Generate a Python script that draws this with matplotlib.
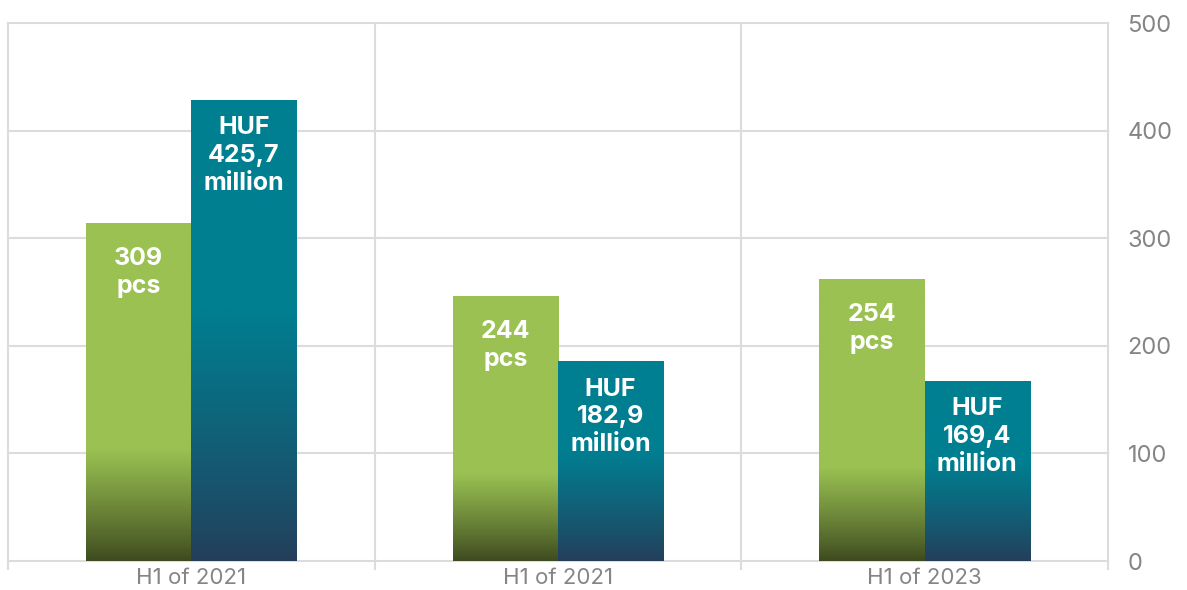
import numpy as np
import matplotlib
matplotlib.use("Agg")
import matplotlib.pyplot as plt
from matplotlib.colors import to_rgb

categories = ["H1 of 2021", "H1 of 2021", "H1 of 2023"]
pcs_values = [314, 246, 262]
huf_values = [428, 185, 167]
pcs_labels = ["309\npcs", "244\npcs", "254\npcs"]
huf_labels = ["HUF\n425,7\nmillion", "HUF\n182,9\nmillion", "HUF\n169,4\nmillion"]
y_ticks = [0, 100, 200, 300, 400, 500]

GREEN_TOP, GREEN_BOT = "#9AC152", "#3D4A1F"
TEAL_TOP, TEAL_BOT = "#007F91", "#243E5B"
GRID = "#DCDCDC"
FONT = ["Inter", "DejaVu Sans"]

W, H, DPI = 1187, 590, 100
fig = plt.figure(figsize=(W / DPI, H / DPI), dpi=DPI)
ax = fig.add_axes([8 / W, 29 / H, 1100 / W, 538 / H])

n = len(categories)
x = np.arange(n)
bw = 0.287

def gradient_img(top, bot, frac):
    t = np.linspace(0, 1, 256)  # 0 bottom -> 1 top
    s = np.clip(t / frac, 0, 1)
    s = s ** 0.9
    c0, c1 = np.array(to_rgb(bot)), np.array(to_rgb(top))
    cols = c0[None, :] * (1 - s[:, None]) + c1[None, :] * s[:, None]
    return cols[::-1][:, None, :]

bars_p = ax.bar(x - bw / 2, pcs_values, bw, color=GREEN_TOP, zorder=2)
bars_h = ax.bar(x + bw / 2, huf_values, bw, color=TEAL_TOP, zorder=2)

for bars, top, bot, frac in [(bars_p, GREEN_TOP, GREEN_BOT, 0.33), (bars_h, TEAL_TOP, TEAL_BOT, 0.55)]:
    for b in bars:
        x0, w, h = b.get_x(), b.get_width(), b.get_height()
        ax.imshow(gradient_img(top, bot, frac), extent=[x0, x0 + w, 0, h],
                  aspect="auto", zorder=3, interpolation="bilinear")

fp = dict(family=FONT, weight="bold", color="white", fontsize=18)
for b, lab in zip(bars_p, pcs_labels):
    ax.annotate(lab, (b.get_x() + b.get_width() / 2, b.get_height()), xytext=(0, -49),
                textcoords="offset pixels", ha="center", va="center", linespacing=1.27,
                zorder=5, **fp)
for b, lab in zip(bars_h, huf_labels):
    ax.annotate(lab, (b.get_x() + b.get_width() / 2, b.get_height()), xytext=(0, -55),
                textcoords="offset pixels", ha="center", va="center", linespacing=1.27,
                zorder=5, **fp)

ax.set_xlim(-0.5, n - 0.5)
ax.set_ylim(0, 500)

# grid
for yv in y_ticks:
    ax.axhline(yv, color=GRID, lw=1.5, zorder=1, clip_on=False)
for xv in np.arange(n + 1) - 0.5:
    ax.plot([xv, xv], [-7, 500], color=GRID, lw=1.5, zorder=1, clip_on=False)

for s in ax.spines.values():
    s.set_visible(False)

ax.yaxis.tick_right()
ax.set_yticks(y_ticks)
ax.set_yticklabels([str(v) for v in y_ticks], family=FONT, fontsize=17, color="#858585")
ax.tick_params(axis="y", length=0, pad=14)
ax.set_xticks(x)
ax.set_xticklabels(categories, family=FONT, fontsize=16, color="#858585")
ax.tick_params(axis="x", length=0, pad=5)

fig.savefig("out.png", dpi=DPI)
